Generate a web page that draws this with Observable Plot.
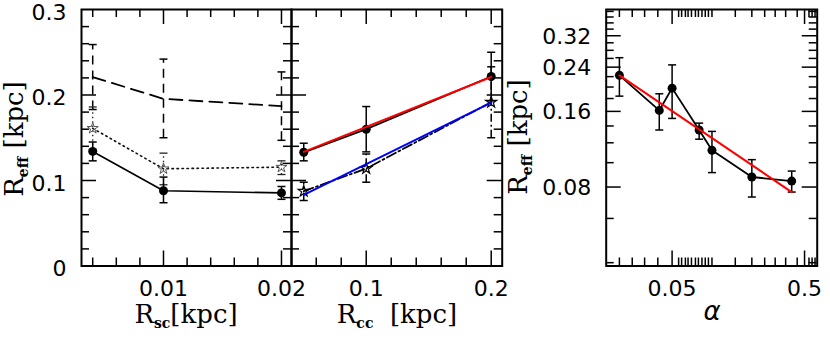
<!DOCTYPE html>
<html><head><meta charset="utf-8">
<script src="https://cdn.jsdelivr.net/npm/d3@7"></script>
<script src="https://cdn.jsdelivr.net/npm/@observablehq/plot@0.6"></script>
<style>
body{margin:0;background:#fff;}
#c{position:relative;width:830px;height:349px;overflow:hidden;background:#fff;}
#c svg{position:absolute;top:0;}
.t{position:absolute;font-family:"DejaVu Serif",serif;font-size:26px;white-space:nowrap;line-height:1;color:#000;}
.t sub{font-size:14px;font-weight:bold;vertical-align:-5px;line-height:0;}
.rot{transform:translate(-50%,-50%) rotate(-90deg);}
.hor{transform:translate(-50%,-50%);}
</style></head><body><div id="c"></div><script>
// ---------- data ----------
// Left panel: R_eff vs R_sc
const rscX = [0.004, 0.01, 0.02];
const rscSolidY = [0.134, 0.088, 0.0855];
const rscSolidLo = [0.123, 0.074, 0.078];
const rscSolidHi = [0.145, 0.104, 0.093];
const rscDotY = [0.161, 0.1137, 0.1156];
const rscDotLo = [0.136, 0.095, 0.107];
const rscDotHi = [0.186, 0.132, 0.123];
const rscDashY = [0.221, 0.1955, 0.187];
const rscDashLo = [0.183, 0.150, 0.147];
const rscDashHi = [0.259, 0.242, 0.227];

// Middle panel: R_eff vs R_cc
const rccX = [0.05, 0.1, 0.2];
const rccSolidY = [0.133, 0.160, 0.2216];
const rccSolidLo = [0.123, 0.1335, 0.193];
const rccSolidHi = [0.1436, 0.1865, 0.25];
const rccStarY = [0.0875, 0.114, 0.1916];
const rccStarLo = [0.0766, 0.098, 0.150];
const rccStarHi = [0.098, 0.131, 0.233];
const rccFitX = [0.05, 0.2];
const rccRedY = [0.1335, 0.221];
const rccBlueY = [0.0833, 0.1912];

// Right panel: R_eff vs alpha (log-log)
const alphaX = [0.02, 0.04, 0.05, 0.08, 0.1, 0.2, 0.4];
const alphaY = [0.2226, 0.1614, 0.198, 0.1349, 0.112, 0.0877, 0.0845];
const alphaLo = [0.184, 0.1349, 0.150, 0.124, 0.0913, 0.073, 0.0764];
const alphaHi = [0.2617, 0.188, 0.245, 0.1437, 0.1332, 0.1028, 0.0926];
const alphaFitX = [0.02, 0.4];
const alphaFitY = [0.2226, 0.0764];

// tick values / labels
const linYLabels = [0, 0.1, 0.2, 0.3];
const linYMajor = [0.1, 0.2];
const linYMinor = [0.02,0.04,0.06,0.08,0.12,0.14,0.16,0.18,0.22,0.24,0.26,0.28];
const rscLabels = [0.01, 0.02];
const rscMinor = [0.004,0.006,0.008,0.012,0.014,0.016,0.018];
const rccLabels = [0.1, 0.2];
const rccMinor = [0.06,0.08,0.12,0.14,0.16,0.18];
const alphaLabels = [0.05, 0.5];
const alphaMinor = [0.02,0.025,0.031,0.039,0.056,0.059,0.063,0.066,0.07,0.075,0.079,0.084,0.089,0.094,0.1,0.15,0.2,0.25,0.3,0.36,0.44,0.54,0.57,0.6];
const logYLabels = [0.08, 0.16, 0.24, 0.32];
const logYMinor = [0.04,0.06,0.1,0.12,0.14,0.18,0.2,0.22,0.26,0.28,0.3,0.34,0.36,0.38,0.4];

// ---------- helpers ----------
const H = 256.5, TOP = 9, SVG_H = 349;
const FONT = "DejaVu Sans";
const cap = {draw(ctx, size){ const r = Math.sqrt(size/Math.PI); ctx.moveTo(-r,0); ctx.lineTo(r,0); }};
const rows = (xs, ys, lo, hi) => xs.map((x,i)=>({x, y: ys[i], lo: lo ? lo[i] : null, hi: hi ? hi[i] : null}));

function errbars(d, dash, color="black", w=1.5){
  return [
    Plot.link(d, {x1:"x", x2:"x", y1:"lo", y2:"hi", stroke: color, strokeWidth: w, strokeDasharray: dash}),
    Plot.dot(d, {x:"x", y:"lo", symbol: cap, r: 4, fill:"none", stroke: color, strokeWidth: w}),
    Plot.dot(d, {x:"x", y:"hi", symbol: cap, r: 4, fill:"none", stroke: color, strokeWidth: w})
  ];
}
function frameTicks(W, xMajor, xMinor, yMajor, yMinor){
  const s = {stroke:"black", strokeWidth:1.5};
  return [
    Plot.tickX(xMajor, {x:d=>d, insetTop: H-15, ...s}),
    Plot.tickX(xMajor, {x:d=>d, insetBottom: H-15, ...s}),
    Plot.tickX(xMinor, {x:d=>d, insetTop: H-8, ...s}),
    Plot.tickX(xMinor, {x:d=>d, insetBottom: H-8, ...s}),
    Plot.tickY(yMajor, {y:d=>d, insetRight: W-15, ...s}),
    Plot.tickY(yMajor, {y:d=>d, insetLeft: W-15, ...s}),
    Plot.tickY(yMinor, {y:d=>d, insetRight: W-8, ...s}),
    Plot.tickY(yMinor, {y:d=>d, insetLeft: W-8, ...s}),
    Plot.frame({stroke:"black", strokeWidth:2})
  ];
}
function panel(left, width, mL, mR, x, y, marks){
  const svg = Plot.plot({
    width, height: SVG_H, marginTop: TOP, marginBottom: SVG_H - TOP - H,
    marginLeft: mL, marginRight: mR,
    x: {...x, axis: null}, y: {...y, axis: null},
    style: {background:"transparent", overflow:"visible", fontFamily: FONT},
    marks
  });
  svg.style.left = left + "px";
  document.getElementById("c").appendChild(svg);
}
const xLabels = (vals, fmt) => Plot.text(vals, {x:d=>d, text:fmt, frameAnchor:"bottom", lineAnchor:"top", dy:14.5, fontSize:22, fontFamily:FONT, fill:"black"});
const yLabels = (vals, fmt, pad, dy) => Plot.text(vals, {y:d=>d, text:fmt, frameAnchor:"left", textAnchor:"end", dx:-pad, dy, fontSize:22, fontFamily:FONT, fill:"black"});

// ---------- left panel ----------
{
  const solid = rows(rscX, rscSolidY, rscSolidLo, rscSolidHi);
  const dot = rows(rscX, rscDotY, rscDotLo, rscDotHi);
  const dash = rows(rscX, rscDashY, rscDashLo, rscDashHi);
  const W = 210;
  panel(0, 300, 81, 9,
    {type:"linear", domain:[0.00305, 0.02085]},
    {type:"linear", domain:[0, 0.3]},
    [
      ...frameTicks(W, rscLabels, rscMinor, linYMajor, linYMinor),
      ...errbars(dash, "9,6"),
      ...errbars(dot, "1.5,3", "#222", 1.3),
      ...errbars(solid, null),
      Plot.line(dash, {x:"x", y:"y", stroke:"black", strokeWidth:1.8, strokeDasharray:"13,7"}),
      Plot.line(dot, {x:"x", y:"y", stroke:"#111", strokeWidth:1.6, strokeDasharray:"1.5,3.5"}),
      Plot.line(solid, {x:"x", y:"y", stroke:"black", strokeWidth:1.6}),
      Plot.dot(dot, {x:"x", y:"y", symbol:"star", r:3.5, fill:"none", stroke:"#555", strokeWidth:1}),
      Plot.dot(solid, {x:"x", y:"y", r:4.5, fill:"black"}),
      xLabels(rscLabels, d=>d.toFixed(2)),
      yLabels(linYLabels, d=> d===0 ? "0" : d.toFixed(1), 15, 3)
    ]);
}
// ---------- middle panel ----------
{
  const solid = rows(rccX, rccSolidY, rccSolidLo, rccSolidHi);
  const star = rows(rccX, rccStarY, rccStarLo, rccStarHi);
  const red = rows(rccFitX, rccRedY);
  const blue = rows(rccFitX, rccBlueY);
  const W = 210.7;
  panel(280, 232, 11, 10.3,
    {type:"linear", domain:[0.0402, 0.2088]},
    {type:"linear", domain:[0, 0.3]},
    [
      ...frameTicks(W, rccLabels, rccMinor, linYMajor, linYMinor),
      ...errbars(star, "8,3,2,3"),
      ...errbars(solid, null),
      Plot.line(star, {x:"x", y:"y", stroke:"black", strokeWidth:1.8, strokeDasharray:"10,3,2,3"}),
      Plot.line(solid, {x:"x", y:"y", stroke:"black", strokeWidth:1.8}),
      Plot.dot(star, {x:"x", y:"y", symbol:"star", r:3.5, fill:"none", stroke:"black", strokeWidth:1.2}),
      Plot.dot(solid, {x:"x", y:"y", r:4.5, fill:"black"}),
      Plot.line(red, {x:"x", y:"y", stroke:"#ff0000", strokeWidth:2}),
      Plot.line(blue, {x:"x", y:"y", stroke:"#0000ff", strokeWidth:2}),
      xLabels(rccLabels, d=>d.toFixed(1))
    ]);
}
// ---------- right panel ----------
{
  const pts = rows(alphaX, alphaY, alphaLo, alphaHi);
  const fit = rows(alphaFitX, alphaFitY);
  const W = 211;
  panel(540, 290, 65.7, 13.3,
    {type:"log", domain:[0.0159, 0.623]},
    {type:"log", domain:[0.0388, 0.407]},
    [
      ...frameTicks(W, alphaLabels, alphaMinor, logYLabels, logYMinor),
      ...errbars(pts, null),
      Plot.line(pts, {x:"x", y:"y", stroke:"black", strokeWidth:1.8}),
      Plot.dot(pts, {x:"x", y:"y", r:4.5, fill:"black"}),
      Plot.line(fit, {x:"x", y:"y", stroke:"#ff0000", strokeWidth:2}),
      xLabels(alphaLabels, d=>String(d)),
      yLabels(logYLabels, d=>d.toFixed(2), 15, 1)
    ]);
}
// ---------- titles (HTML text) ----------
const c = document.getElementById("c");
function title(html, x, y, cls){
  const d = document.createElement("div");
  d.className = "t " + cls; d.innerHTML = html;
  d.style.left = x + "px"; d.style.top = y + "px";
  c.appendChild(d);
}
title("R<sub>eff</sub>&nbsp;[kpc]", 14, 139, "rot");
title("R<sub>sc</sub>[kpc]", 186, 314, "hor");
title("R<sub>cc</sub>&nbsp;&nbsp;[kpc]", 397, 314, "hor");
title("R<sub>eff</sub>&nbsp;[kpc]", 518, 137, "rot");
title("<span style='font-family:\"DejaVu Sans\";font-style:italic'>α</span>", 712, 311, "hor");
</script></body></html>
